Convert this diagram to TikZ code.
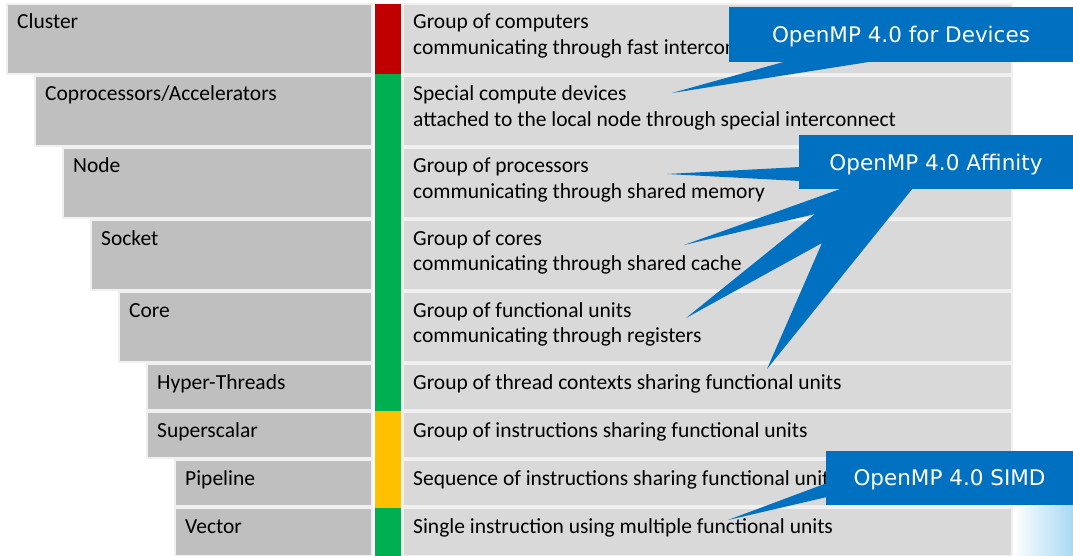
\documentclass[tikz,border=0pt]{standalone}
\usepackage{fontspec}
\setmainfont{Carlito}
\newfontfamily\calloutfont{DejaVu Sans}
\usetikzlibrary{calc}

\definecolor{tiergray}{HTML}{BFBFBF}
\definecolor{descgray}{HTML}{D9D9D9}
\definecolor{edgegray}{HTML}{F0F0F0}
\definecolor{barred}{HTML}{C00000}
\definecolor{bargreen}{HTML}{00B050}
\definecolor{baryellow}{HTML}{FFC000}
\definecolor{ompblue}{HTML}{0070C0}
\definecolor{waterblue}{HTML}{A9D8F2}

% one level of the hierarchy: name, left x, top y, height, label, description
\newcommand\tier[6]{%
  \node[tierbox, minimum width={(372-#2)*1pt}, minimum height=#4pt] (#1) at (#2,#3) {};
  \node[tiertext] (#1-label) at ($(#1.north west)+(10,25)$) {#5};
  \node[descbox, minimum width=609pt, minimum height=#4pt] (#1-desc) at (403,#3) {};
  \node[desctext] (#1-text) at ($(#1-desc.north west)+(10,25)$)
    {\begin{tabular}[t]{@{}l@{}}#6\end{tabular}};
}

\begin{document}
\begin{tikzpicture}[x=1pt,y=-1pt,
  box/.style={rectangle, inner sep=0pt, outer sep=0pt, anchor=north west,
    draw=edgegray, line width=1.5pt},
  tierbox/.style={box, fill=tiergray},
  descbox/.style={box, fill=descgray},
  bar/.style={rectangle, inner sep=0pt, outer sep=0pt, anchor=north west,
    minimum width=26pt},
  tiertext/.style={anchor=base west, inner sep=0pt,
    font=\fontsize{21.5}{25.5}\selectfont},
  desctext/.style={anchor=base west, inner sep=0pt,
    font=\fontsize{21.5}{25.5}\selectfont},
  callout/.style={rectangle, fill=ompblue, text=white, inner sep=0pt,
    outer sep=0pt, anchor=north west, text depth=0pt,
    font=\calloutfont\fontsize{21.5}{26}\selectfont},
  pointer/.style={fill=ompblue}
]
\useasboundingbox (0,0) rectangle (1073,556);

% hierarchy levels
\tier{cluster}{7}{4}{70}{Cluster}{Group of computers\\communicating through fast interconnect}
\tier{accel}{35}{76}{70}{Coprocessors/Accelerators}{Special compute devices\\attached to the local node through special interconnect}
\tier{nd}{63}{148}{70}{Node}{Group of processors\\communicating through shared memory}
\tier{socket}{91}{220}{70}{Socket}{Group of cores\\communicating through shared cache}
\tier{core}{119}{292}{70}{Core}{Group of functional units\\communicating through registers}
\tier{ht}{147}{364}{46}{Hyper-Threads}{Group of thread contexts sharing functional units}
\tier{ss}{147}{412}{46}{Superscalar}{Group of instructions sharing functional units}
\tier{pipe}{175}{460}{46}{Pipeline}{Sequence of instructions sharing functional units}
\tier{vec}{175}{508}{48}{Vector}{Single instruction using multiple functional units}

% colour bar between labels and descriptions
\node[bar, fill=barred, minimum height=70pt] (bar-red) at (375,4) {};
\node[bar, fill=bargreen, minimum height=337pt] (bar-green) at (375,74) {};
\node[bar, fill=baryellow, minimum height=97pt] (bar-yellow) at (375,411) {};
\node[bar, fill=bargreen, minimum height=48pt] (bar-green2) at (375,508) {};

% pale water texture in the corner
\shade[left color=white, right color=waterblue] (1013,503) rectangle (1073,556);

% OpenMP 4.0 for Devices
\node[callout, minimum width=344pt, minimum height=55pt] (devices) at (729,7) {OpenMP 4.0 for Devices};
\coordinate (devices-tip) at (672,93);
\fill[pointer] ($(devices.south west)+(58,-1)$) -- (devices-tip)
  -- ($(devices.south west)+(146,-1)$) -- cycle;

% OpenMP 4.0 Affinity
\node[callout, minimum width=274pt, minimum height=54pt] (affinity) at (799,135) {OpenMP 4.0 Affinity};
\coordinate (aff-tip1) at (667,174);
\coordinate (aff-tip2) at (684,245);
\coordinate (aff-notch1) at (815,214);
\coordinate (aff-tip3) at (686,318);
\coordinate (aff-notch2) at (822,243);
\coordinate (aff-tip4) at (767,369);
\fill[pointer] ($(affinity.north west)+(1,32)$) -- (aff-tip1)
  -- ($(affinity.north west)+(1,46)$) -- cycle;
\fill[pointer] ($(affinity.south west)+(44,-1)$) -- (aff-tip2) -- (aff-notch1)
  -- (aff-tip3) -- (aff-notch2) -- (aff-tip4)
  -- ($(affinity.south west)+(114,-1)$) -- cycle;

% OpenMP 4.0 SIMD
\node[callout, minimum width=247pt, minimum height=54pt] (simd) at (826,451) {OpenMP 4.0 SIMD};
\coordinate (simd-tip) at (728,520);
\fill[pointer] ($(simd.north west)+(1,32)$) -- (simd-tip)
  -- ($(simd.north west)+(1,46)$) -- cycle;
\end{tikzpicture}
\end{document}
